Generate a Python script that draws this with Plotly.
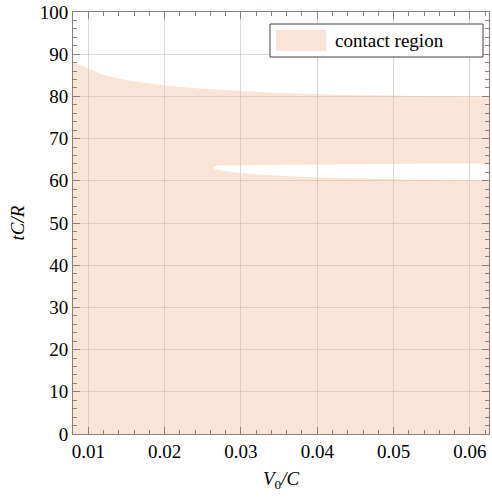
import plotly.graph_objects as go

# Upper boundary of the contact region
x_top = [0.008, 0.01, 0.0116, 0.0135, 0.0159, 0.02, 0.0246, 0.03, 0.035, 0.04, 0.045, 0.05, 0.055, 0.06, 0.0625]
y_top = [88.1, 86.6, 85.3, 84.4, 83.6, 82.6, 81.9, 81.3, 80.8, 80.5, 80.3, 80.2, 80.0, 79.9, 79.8]

# Non-contact slit inside the region (opens toward the right edge)
x_gap_low = [0.0625, 0.06, 0.055, 0.05, 0.045, 0.04, 0.035, 0.03, 0.028, 0.0268]
y_gap_low = [59.9, 60.0, 60.1, 60.3, 60.5, 60.8, 61.2, 61.8, 62.3, 62.7]
x_gap_tip = [0.0263]
y_gap_tip = [63.1]
x_gap_up = [0.0268, 0.03, 0.035, 0.04, 0.045, 0.05, 0.055, 0.06, 0.0625]
y_gap_up = [63.6, 63.7, 63.8, 63.9, 64.0, 64.0, 64.1, 64.1, 64.1]

x_min, x_max = 0.008, 0.0625
y_floor = 0
legend_label = "contact region"

# polygon: bottom-left -> bottom-right -> slit -> top boundary (right to left)
px = [x_min, x_max] + x_gap_low + x_gap_tip + x_gap_up + x_top[::-1] + [x_min]
py = [y_floor, y_floor] + y_gap_low + y_gap_tip + y_gap_up + y_top[::-1] + [y_floor]

font = "Liberation Serif"
fill = "rgba(240,188,152,0.4)"
fig = go.Figure()
fig.add_trace(go.Scatter(
    x=px, y=py, mode="lines", fill="toself",
    fillcolor=fill, line=dict(width=0),
    name=legend_label, hoverinfo="skip", showlegend=False))

axis_common = dict(
    showline=True, linecolor="#8c7e7a", linewidth=1, mirror="allticks",
    ticks="inside", ticklen=7, tickcolor="#8c7e7a", tickwidth=1,
    showgrid=True, gridcolor="rgba(180,160,155,0.42)", gridwidth=1,
    zeroline=False, tickfont=dict(family=font, size=19, color="black"),
    automargin=False, ticklabeloverflow="allow",
)

fig.update_xaxes(
    range=[x_min, x_max], dtick=0.01, tick0=0, tickformat=".2f",
    minor=dict(dtick=0.002, ticks="inside", ticklen=4, tickcolor="#8c7e7a", showgrid=False),
    title=dict(text="<i>V</i><sub>0</sub><i>/C</i>", font=dict(family=font, size=19, color="black"), standoff=10),
    **axis_common)
fig.update_yaxes(
    range=[0, 100], dtick=10, tick0=0,
    minor=dict(dtick=2, ticks="inside", ticklen=4, tickcolor="#8c7e7a", showgrid=False),
    title=dict(text="<i>tC/R</i>", font=dict(family=font, size=19, color="black"), standoff=10),
    **axis_common)

# legend box drawn manually (paper coordinates)
fig.add_shape(type="rect", xref="paper", yref="paper",
              x0=(270 - 73) / 416, x1=(483 - 73) / 416,
              y0=(434 - 57) / 422, y1=(434 - 24) / 422,
              line=dict(color="#444", width=1), fillcolor="white", layer="above")
fig.add_shape(type="rect", xref="paper", yref="paper",
              x0=(276 - 73) / 416, x1=(326 - 73) / 416,
              y0=(434 - 51) / 422, y1=(434 - 30) / 422,
              line=dict(width=0), fillcolor=fill, layer="above")
fig.add_annotation(xref="paper", yref="paper", x=(333 - 73) / 416, y=(434 - 40.5) / 422,
                   xanchor="left", yanchor="middle", text=legend_label, showarrow=False,
                   font=dict(family=font, size=19, color="black"))

fig.update_layout(
    width=492, height=498,
    margin=dict(l=73, r=3, t=12, b=64),
    plot_bgcolor="white", paper_bgcolor="white",
    showlegend=False,
)

fig.write_html("out.html", config={"displayModeBar": False},
               post_script="document.body.style.margin='0';document.body.style.padding='0';")
